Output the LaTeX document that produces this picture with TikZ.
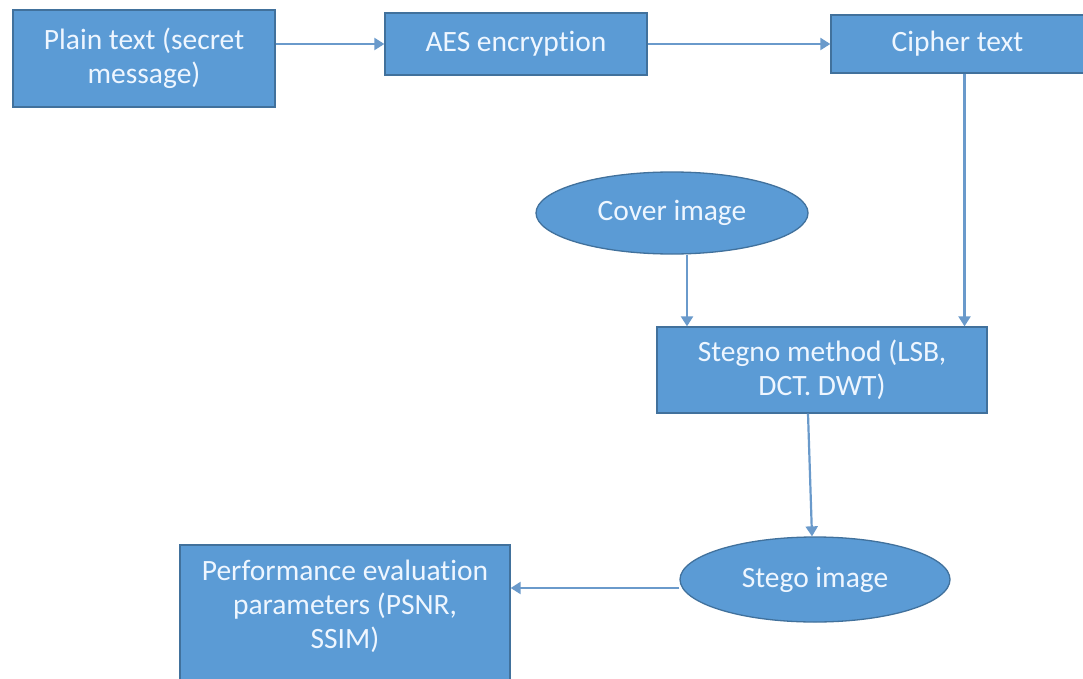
\documentclass[tikz,border=0pt]{standalone}
\usepackage{fontspec}
\setmainfont{Carlito}[Ligatures=NoCommon]
\usetikzlibrary{shapes.geometric,arrows.meta}

\definecolor{boxfill}{HTML}{5B9BD5}
\definecolor{boxedge}{HTML}{41719C}
\definecolor{linkcol}{HTML}{6A9ACB}
\definecolor{labelcol}{HTML}{EEF6FF}

\tikzset{
  procbox/.style={rectangle, draw=boxedge, fill=boxfill, line width=1.3pt,
    inner sep=0pt, text=labelcol, align=center,
    font=\fontsize{29.5}{34}\selectfont},
  databubble/.style={ellipse, draw=boxedge, fill=boxfill, line width=1.3pt,
    inner sep=0pt, text=labelcol, align=center,
    font=\fontsize{29.5}{34}\selectfont},
  caption/.style={text=labelcol, align=center, inner sep=0pt,
    font=\fontsize{29.5}{34}\selectfont},
  link/.style={draw=linkcol, line width=2.2pt,
    -{Triangle[width=12pt,length=10pt]}}
}

\begin{document}
\begin{tikzpicture}[x=1pt,y=-1pt]
  \fill[white] (0,0) rectangle (1083,679);
  \clip (0,0) rectangle (1083,679);

  % top row: encryption chain
  \node[procbox, minimum width=262pt, minimum height=97pt] (plain) at (144,58.5)
    {Plain text (secret\\message)};
  \node[procbox, minimum width=262pt, minimum height=62pt] (aes) at (516,44)
    {AES encryption};
  \node[procbox, minimum width=253pt, minimum height=58pt] (cipher) at (957.5,44)
    {Cipher text};

  % embedding stage
  \node[databubble, minimum width=272pt, minimum height=82pt] (cover) at (672,213)
    {Cover image};
  \node[procbox, minimum width=330pt, minimum height=86pt] (stegno) at (822,370)
    {Stegno method (LSB,\\DCT. DWT)};
  \node[databubble, minimum width=270pt, minimum height=85pt] (stego) at (815,579.5)
    {Stego image};

  % evaluation box (runs off the lower edge)
  \node[procbox, minimum width=330pt, minimum height=150pt] (perf) at (345,620) {};
  \node[caption] (perftext) at (345,606)
    {Performance evaluation\\parameters (PSNR,\\SSIM)};

  % connectors
  \draw[link] (plain.east |- aes.west) -- (aes.west);
  \draw[link] (aes.east) -- (cipher.west);
  \draw[link] ([xshift=7pt]cipher.south) -- ([xshift=7pt]cipher.south |- stegno.north);
  \draw[link] ([xshift=15pt]cover.south) -- ([xshift=15pt]cover.south |- stegno.north);
  \draw[link] ([xshift=-14pt]stegno.south) -- ([xshift=-3pt]stego.north);
  \draw[link] ([yshift=-8.5pt]stego.west) -- ([yshift=-8.5pt]stego.west -| perf.east);
\end{tikzpicture}
\end{document}
